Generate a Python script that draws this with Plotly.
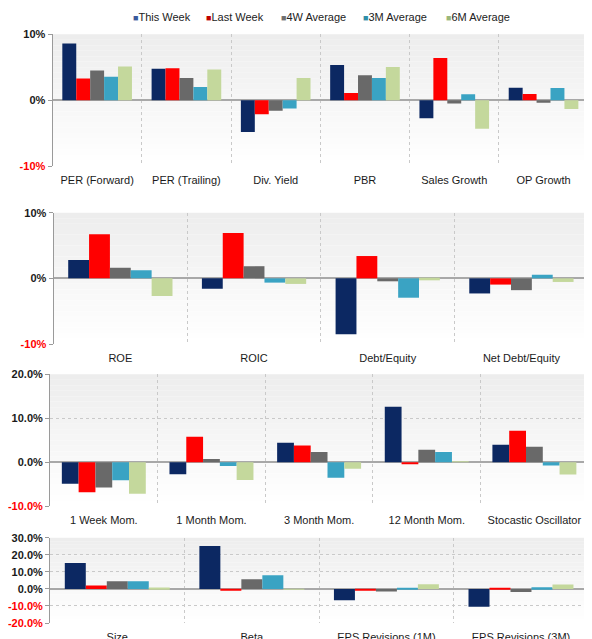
import plotly.graph_objects as go

series_names = ["This Week", "Last Week", "4W Average", "3M Average", "6M Average"]
series_colors = ["#0c2862", "#ff0000", "#696969", "#3aa3c3", "#c4d89c"]
legend_colors = ["#3a5a9c", "#c00000", "#707070", "#2e8ea8", "#9bb77a"]

cats1 = ["PER (Forward)", "PER (Trailing)", "Div. Yield", "PBR", "Sales Growth", "OP Growth"]
this_week1 = [8.6, 4.75, -4.85, 5.35, -2.75, 1.9]
last_week1 = [3.3, 4.85, -2.15, 1.1, 6.4, 0.95]
avg4w1 = [4.5, 3.35, -1.6, 3.8, -0.5, -0.4]
avg3m1 = [3.55, 2.0, -1.25, 3.35, 0.9, 1.85]
avg6m1 = [5.1, 4.65, 3.35, 5.05, -4.35, -1.35]

cats2 = ["ROE", "ROIC", "Debt/Equity", "Net Debt/Equity"]
this_week2 = [2.8, -1.6, -8.5, -2.3]
last_week2 = [6.7, 6.9, 3.4, -0.95]
avg4w2 = [1.6, 1.85, -0.45, -1.8]
avg3m2 = [1.25, -0.65, -2.95, 0.55]
avg6m2 = [-2.7, -0.85, -0.3, -0.55]

cats3 = ["1 Week Mom.", "1 Month Mom.", "3 Month Mom.", "12 Month Mom.", "Stocastic Oscillator"]
this_week3 = [-4.9, -2.7, 4.45, 12.6, 4.0]
last_week3 = [-6.8, 5.8, 3.8, -0.3, 7.15]
avg4w3 = [-5.7, 0.75, 2.35, 2.85, 3.55]
avg3m3 = [-4.1, -0.85, -3.5, 2.35, -0.7]
avg6m3 = [-7.15, -4.0, -1.45, 0.15, -2.8]

cats4 = ["Size", "Beta", "EPS Revisions (1M)", "EPS Revisions (3M)"]
this_week4 = [15.1, 25.2, -6.6, -10.5]
last_week4 = [2.0, -0.8, -0.6, 0.3]
avg4w4 = [4.4, 5.6, -1.5, -1.9]
avg3m4 = [4.4, 8.0, 0.3, 0.9]
avg6m4 = [0.8, -0.3, 2.7, 2.5]

yticks1 = [-10, 0, 10]
yticktext1 = ["-10%", "0%", "10%"]
yticks3 = [-10, 0, 10, 20]
yticktext3 = ["-10.0%", "0.0%", "10.0%", "20.0%"]
yticks4 = [-20, -10, 0, 10, 20, 30]
yticktext4 = ["-20.0%", "-10.0%", "0.0%", "10.0%", "20.0%", "30.0%"]

panels = [
    (cats1, [this_week1, last_week1, avg4w1, avg3m1, avg6m1], yticks1, yticktext1, [-10, 10]),
    (cats2, [this_week2, last_week2, avg4w2, avg3m2, avg6m2], yticks1, yticktext1, [-10, 10]),
    (cats3, [this_week3, last_week3, avg4w3, avg3m3, avg6m3], yticks3, yticktext3, [-10, 20]),
    (cats4, [this_week4, last_week4, avg4w4, avg3m4, avg6m4], yticks4, yticktext4, [-20, 30]),
]

W, H = 592, 639
OFF = 8  # page body margin offset
FONT = "Liberation Sans, Arial"
# target pixel boxes on the page (left, right, top, bottom)
boxes = [(52.5, 588, 34.3, 166), (53.5, 588, 212.7, 344), (50, 588, 374.3, 506.3), (50, 588, 537.7, 623)]

fig = go.Figure()
shapes = []
for i, (cats, vals, tv, tt, rng) in enumerate(panels):
    n = i + 1
    xa = "x" if n == 1 else f"x{n}"
    ya = "y" if n == 1 else f"y{n}"
    for j, (name, col) in enumerate(zip(series_names, series_colors)):
        fig.add_trace(go.Bar(
            x=cats, y=vals[j], name=name, marker=dict(color=col, line=dict(width=0)),
            xaxis=xa, yaxis=ya, showlegend=False,
        ))
    l, r, t, b = boxes[i]
    xd = [(l - OFF) / W, (r - OFF) / W]
    yd = [1 - (b - OFF) / H, 1 - (t - OFF) / H]
    ticktext = [f"<b><span style='color:#ff0000'>{s}</span></b>" if v < 0 else f"<b>{s}</b>"
                for v, s in zip(tv, tt)]
    xkey = "xaxis" if n == 1 else f"xaxis{n}"
    ykey = "yaxis" if n == 1 else f"yaxis{n}"
    fig.update_layout(**{
        xkey: dict(domain=xd, anchor=ya, type="category", tickson="boundaries",
                   range=[-0.5, len(cats) - 0.5 - 0.002], automargin=False,
                   showgrid=True, gridcolor="#c9c9c9", griddash="dot", gridwidth=1,
                   showline=False, ticks="", zeroline=False,
                   tickfont=dict(size=11, color="#1a1a1a", family=FONT),
                   ticklabelstandoff=6),
        ykey: dict(domain=yd, anchor=xa, range=rng, tickvals=tv, ticktext=ticktext,
                   automargin=False,
                   showgrid=True, gridcolor="#c9c9c9", griddash="dot", gridwidth=1,
                   showline=True, linecolor="#9a9a9a", linewidth=1,
                   ticks="outside", ticklen=4, tickcolor="#9a9a9a",
                   zeroline=True, zerolinecolor="#a8a8a8", zerolinewidth=1.5,
                   tickfont=dict(size=11, color="#1a1a1a", family=FONT),
                   ),
    })
    # background gradient bands
    nb = 24
    for k in range(nb):
        f = k / (nb - 1)
        c = int(round(237 + (255 - 237) * f))
        shapes.append(dict(type="rect", xref=f"{xa} domain", yref=f"{ya} domain",
                           x0=0, x1=1, y0=1 - (k + 1) / nb, y1=1 - k / nb,
                           fillcolor=f"rgb({c},{c},{c})", line=dict(width=0), layer="below"))

# legend built from annotations (compact swatches like the reference)
legend_x = [131, 204, 279, 361, 444]
annotations = []
for name, col, lx in zip(series_names, legend_colors, legend_x):
    annotations.append(dict(xref="paper", yref="paper", x=(lx - OFF) / W, y=1 - (17.3 - OFF) / H,
                            xanchor="left", yanchor="middle", showarrow=False,
                            text=f"<span style='color:{col};font-size:9px'>■</span>{name}",
                            font=dict(size=11, family=FONT, color="#222222")))

fig.update_layout(
    width=W, height=H,
    margin=dict(l=0, r=0, t=0, b=0),
    paper_bgcolor="white", plot_bgcolor="white",
    barmode="group", bargap=0.22, bargroupgap=0,
    shapes=shapes, annotations=annotations,
    font=dict(family=FONT, size=11, color="#1a1a1a"),
    showlegend=False,
)

fig.write_html("out.html")
